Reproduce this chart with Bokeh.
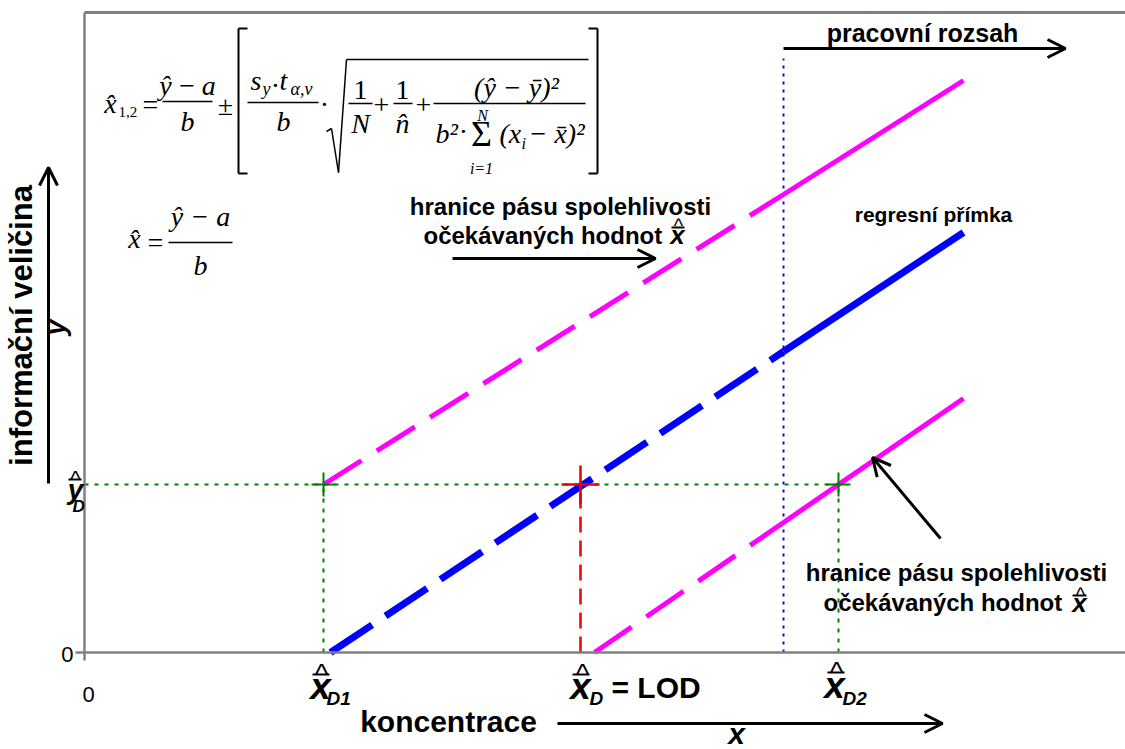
import math
from bokeh.plotting import figure
from bokeh.models import Range1d, Label, Arrow, OpenHead
from bokeh.embed import file_html
from bokeh.resources import INLINE

# ---------------- data (conceptual units: concentration x, signal y) ----------------
y_D = 16.8                      # critical signal  ŷ_D
x_D1, x_D, x_D2 = 23.9, 49.6, 75.4
x_work = 69.9                   # start of working range
work_top = 59.4
reg_x = [24.6, 69.9, 87.9]      # regression line
reg_y = [0.0, 30.1, 42.0]
up_x = [23.9, 69.9, 87.9]       # upper confidence band limit
up_y = [16.8, 45.8, 57.2]
lo_x = [51.0, 69.9, 87.9]       # lower confidence band limit
lo_y = [0.0, 13.0, 25.4]
tick_labels = ["0", "0"]

BLUE = "#0000ff"
MAG = "#ff00ff"
GREEN = "#008000"
RED = "#ee0000"
GRAY = "#808080"
SANS = "Liberation Sans"
SERIF = "Liberation Serif"

p = figure(width=1125, height=749, x_range=Range1d(-8.4, 104.1), y_range=Range1d(-9.7, 65.2),
           output_backend="svg", toolbar_location=None,
           x_axis_location=None, y_axis_location=None, min_border=0)
p.grid.visible = False
p.outline_line_color = None
p.background_fill_color = "white"
p.border_fill_color = "white"

BASE_FIX = 0.26
ROT_FIX = 0.39
TS = "\u2009"   # thin space


def D(ix, iy):
    return (ix - 84) / 10.0, (652 - iy) / 10.0


def lab(ix, iy, s, size, font=SANS, style="bold", align="center", base="alphabetic", angle=0.0, color="black"):
    if base == "alphabetic":
        if angle == 0:
            iy -= BASE_FIX * size
        else:
            ix -= ROT_FIX * size
    x, y = D(ix, iy)
    p.add_layout(Label(x=x, y=y, text=s, text_font=font, text_font_size=f"{size}px",
                       text_font_style=style, text_align=align, text_baseline=base,
                       angle=angle, text_color=color))


def seg(ix0, iy0, ix1, iy1, w=1.5, color="black", head=None):
    x0, y0 = D(ix0, iy0)
    x1, y1 = D(ix1, iy1)
    p.add_layout(Arrow(x_start=x0, y_start=y0, x_end=x1, y_end=y1, end=head, start=None,
                       line_width=w, line_color=color))


def arrow(ix0, iy0, ix1, iy1):
    seg(ix0, iy0, ix1, iy1, w=3, head=OpenHead(size=18, line_width=3, line_color="black"))


# ---------------- frame / axes ----------------
seg(84, 660, 84, 12, w=2.5, color=GRAY)
seg(75, 652, 1125, 652, w=2.5, color=GRAY)
seg(84, 12, 1125, 12, w=3, color=GRAY)
lab(73, 660, tick_labels[0], 22, style="normal", align="right")
lab(88, 700, tick_labels[1], 22, style="normal")

# ---------------- guide lines ----------------
p.line([0, x_D2], [y_D, y_D], line_color=GREEN, line_width=2, line_dash="4 6")
p.line([x_D1, x_D1], [0, y_D], line_color=GREEN, line_width=2, line_dash="4 6")
p.line([x_D2, x_D2], [0, y_D], line_color=GREEN, line_width=2, line_dash="4 6")
p.line([x_work, x_work], [0, work_top], line_color="#1010d0", line_width=2, line_dash="3 5")
p.line([x_D, x_D], [0, y_D], line_color=RED, line_width=2.5, line_dash="16 8")

# ---------------- regression line and confidence band ----------------
p.line(up_x[:2], up_y[:2], line_color=MAG, line_width=5, line_dash="45 18")
p.line(up_x[1:], up_y[1:], line_color=MAG, line_width=5)
p.line(lo_x[:2], lo_y[:2], line_color=MAG, line_width=5, line_dash="45 18")
p.line(lo_x[1:], lo_y[1:], line_color=MAG, line_width=5)
p.line(reg_x[:2], reg_y[:2], line_color=BLUE, line_width=7, line_dash="50 16")
p.line(reg_x[1:], reg_y[1:], line_color=BLUE, line_width=7)

p.scatter([x_D1, x_D2], [y_D, y_D], marker="cross", size=24, line_color=GREEN, line_width=2)
p.scatter([x_D], [y_D], marker="cross", size=38, line_color=RED, line_width=2.5)

# ---------------- formula 1 ----------------
lab(110, 110, "x\u0302", 28, SERIF, "italic")
lab(118, 115, "1,2", 15, SERIF, "normal", "left")
lab(150, 111, "=", 28, SERIF, "normal")
lab(187, 92, "\u0177" + TS + "\u2212" + TS + "a", 28, SERIF, "italic")
seg(162, 101, 212, 101)
lab(187, 128, "b", 28, SERIF, "italic")
lab(225, 112, "\u00b1", 28, SERIF, "normal")
seg(238, 28, 238, 173, w=2); seg(238, 28, 247, 28, w=2); seg(238, 173, 247, 173, w=2)
lab(250, 87, "s", 28, SERIF, "italic", "left")
lab(262, 93, "y", 18, SERIF, "italic", "left")
lab(275, 92, "\u00b7", 28, SERIF, "normal")
lab(279, 87, "t", 28, SERIF, "italic", "left")
lab(290, 93, "\u03b1,\u03bd", 18, SERIF, "italic", "left")
seg(247, 102, 318, 102)
lab(283, 128, "b", 28, SERIF, "italic")
lab(324, 111, "\u00b7", 28, SERIF, "normal")
seg(326, 131, 331, 128); seg(331, 128, 338, 172); seg(338, 172, 346, 59); seg(346, 59, 588, 59)
lab(360, 97, "1", 28, SERIF, "normal")
seg(348, 103, 372, 103)
lab(360, 130, "N", 28, SERIF, "italic")
lab(381, 112, "+", 28, SERIF, "normal")
lab(402, 97, "1", 28, SERIF, "normal")
seg(393, 103, 412, 103)
lab(402, 130, "n\u0302", 28, SERIF, "italic")
lab(423, 112, "+", 28, SERIF, "normal")
lab(516, 94, "(\u0177 \u2212 \u0233)\u00b2", 28, SERIF, "italic")
seg(433, 103, 585, 103)
lab(435, 140, "b\u00b2", 28, SERIF, "italic", "left")
lab(463, 138, "\u00b7", 28, SERIF, "normal")
lab(481, 143, "\u03a3", 36, SERIF, "normal")
lab(482, 119, "N", 16, SERIF, "italic")
lab(481, 172, "i=1", 16, SERIF, "italic")
lab(499, 140, "(x", 28, SERIF, "italic", "left")
lab(521, 147, "i", 16, SERIF, "italic", "left")
lab(528, 140, "\u2212 x\u0304)\u00b2", 28, SERIF, "italic", "left")
seg(597, 28, 597, 173, w=2); seg(588, 28, 597, 28, w=2); seg(588, 173, 597, 173, w=2)

# ---------------- formula 2 ----------------
lab(134, 245, "x\u0302", 28, SERIF, "italic")
lab(155, 249, "=", 28, SERIF, "normal")
lab(200, 223, "\u0177 \u2212 a", 28, SERIF, "italic")
seg(168, 242, 232, 242)
lab(200, 272, "b", 28, SERIF, "italic")

# ---------------- annotations ----------------
lab(922, 39, "pracovn\u00ed rozsah", 25)
arrow(783, 48, 1065, 48)

lab(560, 212, "hranice p\u00e1su spolehlivosti", 24)
lab(423, 241, "o\u010dek\u00e1van\u00fdch hodnot", 24, align="left")
lab(677, 241, "x", 26, style="bold italic")
seg(671, 227, 684, 227, w=2)
lab(678, 231, "^", 20, style="normal")
arrow(452, 258, 655, 258)

lab(933, 219, "regresn\u00ed p\u0159\u00edmka", 21)

lab(956, 578, "hranice p\u00e1su spolehlivosti", 24)
lab(823, 608, "o\u010dek\u00e1van\u00fdch hodnot", 24, align="left")
lab(1079, 609, "x", 26, style="bold italic")
seg(1072, 595, 1086, 595, w=2)
lab(1080, 600, "^", 20, style="normal")
arrow(940, 538, 872, 457)

# left axis title
lab(33, 325, "informa\u010dn\u00ed veli\u010dina", 31, angle=math.pi / 2)
arrow(48, 483, 48, 167)
lab(66, 327, "y", 28, style="bold italic", angle=math.pi / 2)

# y_D tick label (upright)
lab(75, 496, "y", 28, style="bold italic")
seg(68, 479, 81, 479, w=2)
lab(75, 484, "^", 22, style="normal")
lab(72, 510, "D", 17, style="bold italic", align="left")

# bottom labels
lab(320, 696, "x", 37, style="bold italic")
seg(312, 674, 329, 674, w=2)
lab(321, 680, "^", 28, style="normal")
lab(326, 703, "D1", 19, style="bold italic", align="left")

lab(580, 696, "x", 37, style="bold italic")
seg(572, 674, 589, 674, w=2)
lab(582, 680, "^", 28, style="normal")
lab(589, 703, "D", 19, style="bold italic", align="left")
lab(611, 695, "= LOD", 30, align="left")

lab(834, 695, "x", 37, style="bold italic")
seg(827, 672, 844, 672, w=2)
lab(836, 678, "^", 28, style="normal")
lab(842, 703, "D2", 19, style="bold italic", align="left")

lab(448, 729, "koncentrace", 30)
arrow(557, 723, 942, 723)
lab(736, 741, "x", 30, style="bold italic")

open("out.html", "w").write(file_html(p, INLINE))
